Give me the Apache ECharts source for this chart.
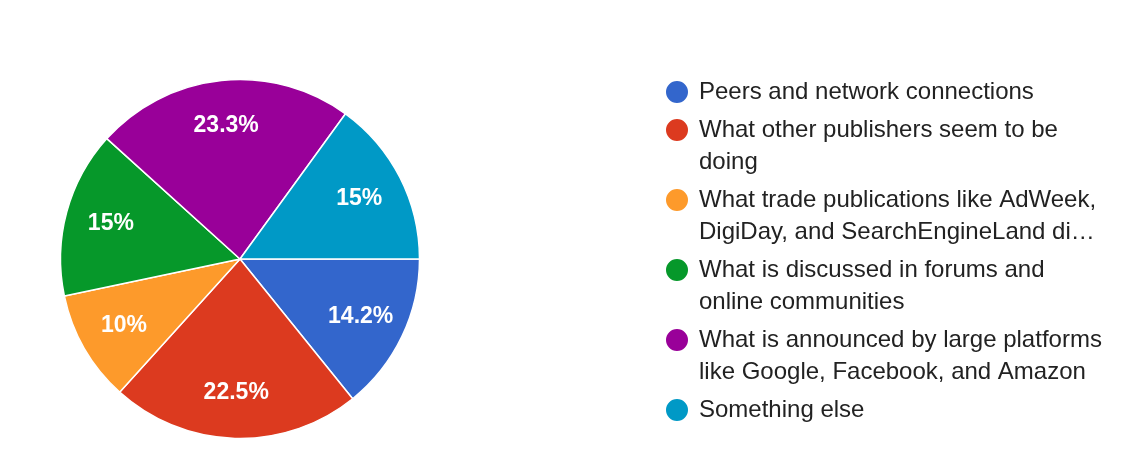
<!DOCTYPE html>
<html>
<head>
<meta charset="utf-8">
<script src="https://cdn.jsdelivr.net/npm/echarts@6/dist/echarts.min.js"></script>
<style>
html,body{margin:0;padding:0;background:#fff;}
#chart{width:1146px;height:472px;}
</style>
</head>
<body>
<div id="chart"></div>
<script>
const categories = [
  'Peers and network connections',
  'What other publishers seem to be doing',
  'What trade publications like AdWeek, DigiDay, and SearchEngineLand di\u2026',
  'What is discussed in forums and online communities',
  'What is announced by large platforms like Google, Facebook, and Amazon',
  'Something else'
];
const percentValues = [14.2, 22.5, 10, 15, 23.3, 15];

const palette = ['#3366cc', '#dc3a1f', '#fd9a2b', '#06982a', '#990099', '#0099c6'];
const fontFamily = 'Helvetica, Arial, "Liberation Sans", sans-serif';

const pieData = categories.map((name, i) => ({ name: name, value: percentValues[i] }));
const lastIndex = categories.length - 1;

const chart = echarts.init(document.getElementById('chart'), null, { renderer: 'canvas' });
chart.setOption({
  animation: false,
  color: palette,
  legend: {
    orient: 'vertical',
    left: 664,
    top: 76,
    height: 800,
    padding: 0,
    icon: 'circle',
    itemWidth: 24,
    itemHeight: 24,
    itemGap: -26,
    selectedMode: false,
    data: categories,
    formatter: function (name) {
      const i = categories.indexOf(name);
      return (i > 0 ? '\n' : '') + name + (i === lastIndex ? '\n ' : '');
    },
    textStyle: {
      fontFamily: fontFamily,
      fontSize: 24,
      lineHeight: 32,
      color: '#222222',
      width: 411,
      overflow: 'break',
      padding: [0, 0, 0, 5]
    }
  },
  series: [
    {
      type: 'pie',
      center: [240, 259],
      radius: [0, 179.5],
      startAngle: 0,
      clockwise: true,
      data: pieData,
      label: { show: false },
      labelLine: { show: false },
      itemStyle: { borderColor: '#ffffff', borderWidth: 1.5 },
      emphasis: { disabled: true }
    },
    {
      type: 'pie',
      silent: true,
      center: [240, 259],
      radius: [82, 179.5],
      startAngle: 0,
      clockwise: true,
      data: pieData,
      itemStyle: { color: 'rgba(0,0,0,0)', borderWidth: 0 },
      label: {
        show: true,
        position: 'inside',
        formatter: function (p) { return p.value + '%'; },
        color: '#ffffff',
        fontFamily: fontFamily,
        fontSize: 23,
        fontWeight: 'bold',
        textBorderWidth: 0
      },
      labelLine: { show: false },
      emphasis: { disabled: true }
    }
  ]
});
</script>
</body>
</html>
